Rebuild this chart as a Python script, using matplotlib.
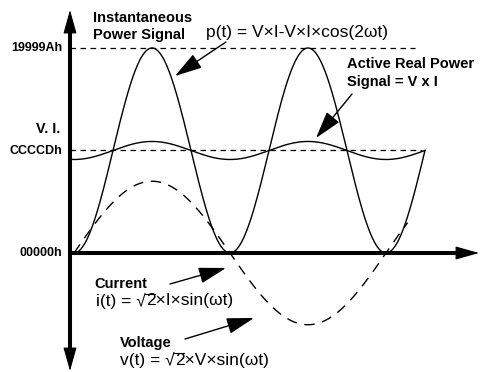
import numpy as np
import matplotlib.pyplot as plt

plt.rcParams['font.family'] = ['Liberation Sans', 'DejaVu Sans']

# levels on the y axis (hex counts) and their labels
levels = [0x00000, 0xCCCCD, 0x19999A]
level_labels = ['00000h', 'CCCCDh', '19999Ah']
VI = 0xCCCCD              # V x I, the mean of p(t)

# drawn amplitudes, as a fraction of V x I
wave_amp = 0.70           # sqrt(2)*V and sqrt(2)*I share one dashed curve
ripple = 0.088            # leftover ripple on the active power line

# range of wt (degrees) for each curve
power_span = (0, 405)
active_span = (-4.6, 405)
wave_span = (0, 385)

W, H = 480, 372
fig = plt.figure(figsize=(W / 100, H / 100), dpi=100)
ax = fig.add_axes([0, 0, 1, 1])
ax.set_xlim(-85.4, 468.5)
ax.set_ylim(-1.161 * VI, 2.468 * VI)
ax.axis('off')
rend = fig.canvas.get_renderer()


def P(x, y):
    # pixel position -> axes fraction
    return (x / W, 1 - y / H)


def sqrt2_text(x, y, before, after, **kw):
    # "before √2 after" with a bar over the 2
    t1 = ax.text(*P(x, y), before + '√', **kw)
    bb = t1.get_window_extent(rend)
    t2 = ax.text(bb.x1 / W, P(x, y)[1], '2' + after, **kw)
    tmp = ax.text(0, 0, '2', **kw)
    w2 = tmp.get_window_extent(rend).width
    tmp.remove()
    ytop = (bb.y1 - 0.9) / H
    ax.plot([(bb.x1 - 1.2) / W, (bb.x1 + w2) / W], [ytop, ytop],
            transform=ax.transAxes, color='black', lw=0.8)
    return t2


wt = np.linspace(*power_span, 600)
p = VI - VI * np.cos(np.radians(2 * wt))
ax.plot(wt, p, color='black', lw=1.0)

wt_a = np.linspace(*active_span, 600)
active = VI - ripple * VI * np.cos(np.radians(2 * wt_a))
ax.plot(wt_a, active, color='black', lw=1.0)

wt_v = np.linspace(*wave_span, 600)
wave = wave_amp * VI * np.sin(np.radians(wt_v))
ax.plot(wt_v, wave, color='black', lw=1.0, dashes=(7.5, 5.5))

# dashed reference levels
ax.plot([-4.6, 393], [levels[2]] * 2, color='black', lw=0.9, dashes=(4.5, 3.5))
ax.plot([-4.6, 401], [levels[1]] * 2, color='black', lw=0.9, dashes=(4.5, 3.5))

# axes with arrow heads
ax.plot(*zip(P(70, 30), P(70, 355)), transform=ax.transAxes, color='black',
        lw=2.9, solid_capstyle='butt')
ax.plot(*zip(P(70, 253), P(464, 253)), transform=ax.transAxes, color='black',
        lw=2.9, solid_capstyle='butt')
big = dict(arrowstyle='-|>,head_length=1.5,head_width=0.42', color='black',
           lw=0.8, shrinkA=0, shrinkB=0)
for tip, base in [((70, 10), (70, 34)), ((70, 371), (70, 350)),
                  ((479, 253), (458, 253))]:
    ax.annotate('', xy=P(*tip), xytext=P(*base), xycoords='axes fraction',
                textcoords='axes fraction', arrowprops=big)

# level labels
bold = dict(fontweight='bold', fontsize=9, va='center', ha='right',
            transform=ax.transAxes)
ax.text(*P(62, 48), level_labels[2], **bold)
ax.text(*P(62, 151), level_labels[1], **bold)
ax.text(*P(62, 253), level_labels[0], **bold)
ax.text(*P(60, 129), 'V. I.', fontweight='bold', fontsize=10.4, va='center',
        ha='right', transform=ax.transAxes)

# callouts
head = dict(arrowstyle='-|>,head_length=1.7,head_width=0.5', color='black',
            lw=1.0, shrinkA=0, shrinkB=0)
note = dict(fontweight='bold', fontsize=10.5, va='center', ha='left',
            transform=ax.transAxes)
eq = dict(fontsize=12.5, va='center', ha='left', transform=ax.transAxes)

ax.text(*P(93, 18), 'Instantaneous', **note)
ax.text(*P(93, 35), 'Power Signal', **note)
ax.text(*P(206, 33), 'p(t) = V×I-V×I×cos(2ωt)', **eq)
ax.annotate('', xy=P(175, 76), xytext=P(226, 42), xycoords='axes fraction',
            textcoords='axes fraction', arrowprops=head)

ax.text(*P(347, 64), 'Active Real Power', **note)
ax.text(*P(347, 82), 'Signal = V x I', **note)
ax.annotate('', xy=P(316, 138), xytext=P(352, 94), xycoords='axes fraction',
            textcoords='axes fraction', arrowprops=head)

ax.text(*P(94, 284), 'Current', **note)
sqrt2_text(96, 301, 'i(t) = ', '×I×sin(ωt)', **eq)
ax.annotate('', xy=P(226, 268), xytext=P(170, 284), xycoords='axes fraction',
            textcoords='axes fraction', arrowprops=head)

ax.text(*P(120, 343), 'Voltage', **note)
sqrt2_text(120, 360, 'v(t) = ', '×V×sin(ωt)', **eq)
ax.annotate('', xy=P(254, 318), xytext=P(185, 339), xycoords='axes fraction',
            textcoords='axes fraction', arrowprops=head)

fig.savefig('out.png', dpi=100, facecolor='white')
